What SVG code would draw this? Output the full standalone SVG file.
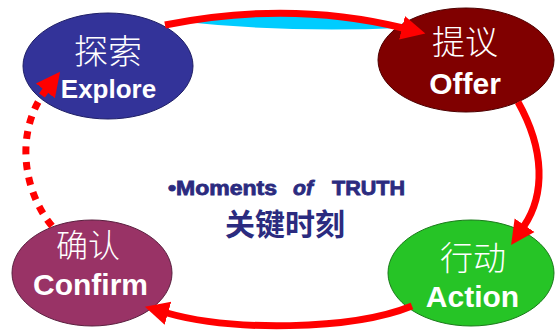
<svg xmlns="http://www.w3.org/2000/svg" width="556" height="332" viewBox="0 0 556 332">
<defs>
<style>
.cjk{font-family:"Noto Sans CJK SC","Noto Sans CJK TC",sans-serif;font-weight:300;fill:#ffffff;text-anchor:middle}
.en{font-family:"Liberation Sans",Arial,sans-serif;font-weight:bold;fill:#ffffff;text-anchor:middle}
.mid{font-family:"Liberation Sans",Arial,sans-serif;font-weight:bold;fill:#2b2b7f;stroke:#2b2b7f;stroke-width:0.8;font-size:20px}
.link{fill:none;stroke:#ff0000;stroke-width:7}
</style>
<marker id="ah" markerUnits="userSpaceOnUse" viewBox="0 -14 26 28" refX="1" refY="0" markerWidth="26" markerHeight="28" orient="auto">
<path d="M0,-12 L24,0 L0,12 Z" fill="#ff0000"/>
</marker>
</defs>
<rect width="556" height="332" fill="#ffffff"/>
<g id="node-explore">
<ellipse cx="108" cy="66" rx="85" ry="53" fill="#333399" stroke="#1f1f66" stroke-width="1"/>
<text class="cjk" x="108" y="64" font-size="34">探索</text>
<text class="en" x="108.5" y="98" font-size="26">Explore</text>
</g>
<g id="node-offer">
<ellipse cx="466" cy="60" rx="88" ry="52" fill="#800000" stroke="#4d0000" stroke-width="1"/>
<text class="cjk" x="465" y="54" font-size="33">提议</text>
<text class="en" x="465" y="94" font-size="30">Offer</text>
</g>
<g id="node-action">
<ellipse cx="471" cy="273" rx="83" ry="53" fill="#26c426" stroke="#1a7a1a" stroke-width="1"/>
<text class="cjk" x="473" y="270" font-size="33">行动</text>
<text class="en" x="472.5" y="307" font-size="30">Action</text>
</g>
<g id="node-confirm">
<ellipse cx="92" cy="273" rx="80" ry="53" fill="#993366" stroke="#5a1f3f" stroke-width="1"/>
<text class="cjk" x="88" y="257" font-size="32">确认</text>
<text class="en" x="90.5" y="295" font-size="30">Confirm</text>
</g>
<g id="center-text">
<text class="mid" x="168" y="195" textLength="109" lengthAdjust="spacingAndGlyphs">•Moments</text>
<text class="mid" x="293" y="195" font-style="italic" textLength="20" lengthAdjust="spacingAndGlyphs">of</text>
<text class="mid" x="332" y="195" textLength="73" lengthAdjust="spacingAndGlyphs">TRUTH</text>
<text x="285" y="235" font-family="Noto Sans CJK SC, sans-serif" font-weight="bold" font-size="30" fill="#2b2b7f" text-anchor="middle">关键时刻</text>
</g>
<g id="connectors">
<path d="M185,22 Q290,2 400,28 Q290,33 185,22 Z" fill="#00ccff"/>
<path class="link" d="M165,25 Q290,0 403,28" marker-end="url(#ah)"/>
<path class="link" d="M518,102 C545,150 545,195 524,226" marker-end="url(#ah)"/>
<path class="link" d="M412,306 C350,331 230,331 167,313" marker-end="url(#ah)"/>
<path class="link" d="M52,226 C22,190 15,130 46,90" stroke-dasharray="8 7.5" marker-end="url(#ah)"/>
</g>
</svg>
